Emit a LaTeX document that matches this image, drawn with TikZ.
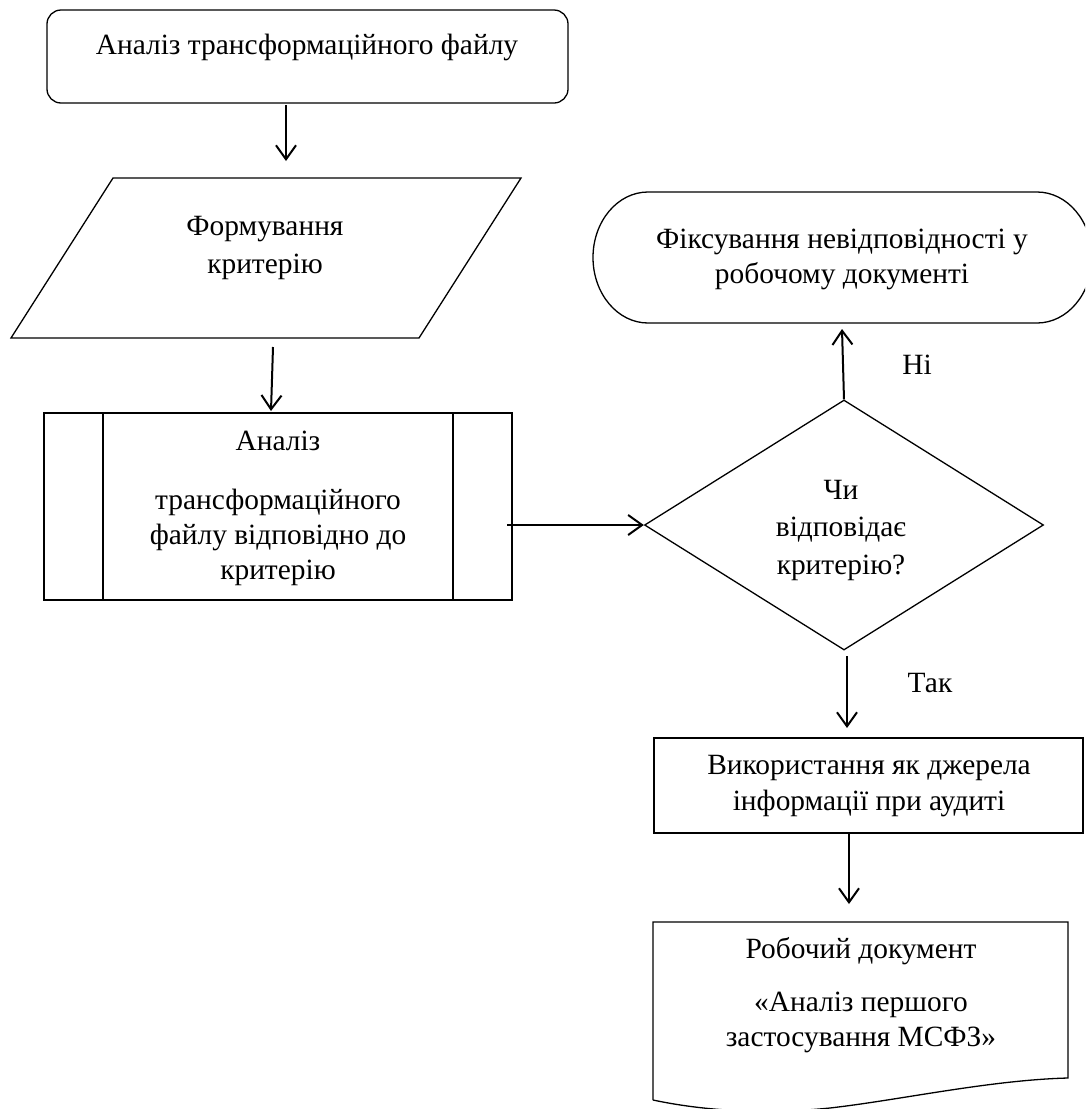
\documentclass[tikz,border=0pt]{standalone}
\usepackage{fontspec}
\setmainfont{Liberation Serif}
\usetikzlibrary{shapes.geometric,arrows.meta}
\begin{document}
\begin{tikzpicture}[x=1pt,y=-1pt,
  shp/.style={draw,line width=1.3pt},
  txt/.style={inner sep=0pt,align=center,font=\fontsize{29.4}{35}\selectfont},
  conn/.style={line width=2pt,-{Straight Barb[length=14pt,width=20pt]}}]
\useasboundingbox (0,0) rectangle (1085,1109);
\clip (0,0) rectangle (1085,1109);
\fill[white] (0,0) rectangle (1085,1109);

% top rounded rectangle
\draw[shp,rounded corners=14pt] (47,10) rectangle (568,103);
\node[txt] (t1) at (307,47) {Аналіз трансформаційного файлу};

% parallelogram
\draw[shp,line join=miter] (113,178) -- (521,178) -- (419,338) -- (11,338) -- cycle;
\node[txt,font=\fontsize{29.4}{38.5}\selectfont] (t2) at (265,248) {Формування\\критерію};

% predefined process
\draw[shp] (44,413) rectangle (512,600);
\draw[shp] (103,413) -- (103,600);
\draw[shp] (453,413) -- (453,600);
\node[txt] (t3) at (278,508) {Аналіз\\[24pt]трансформаційного\\файлу відповідно до\\критерію};

% decision
\node[shp,diamond,minimum width=399pt,minimum height=250pt,inner sep=0pt] (dm) at (844,525) {};
\node[txt,font=\fontsize{29.4}{37.5}\selectfont] (t4) at (841,530) {Чи\\відповідає\\критерію?};

% terminator
\draw[shp] (648,192) -- (1037,192)
  .. controls (1067.4,192) and (1092,221.3) .. (1092,257.5)
  .. controls (1092,293.7) and (1067.4,323) .. (1037,323)
  -- (648,323)
  .. controls (617.6,323) and (593,293.7) .. (593,257.5)
  .. controls (593,221.3) and (617.6,192) .. (648,192) -- cycle;
\node[txt] (t5) at (842,259) {Фіксування невідповідності у\\робочому документі};

% process rectangle
\draw[shp] (654,738) rectangle (1083,833);
\node[txt,font=\fontsize{29.4}{36}\selectfont] (t6) at (869,786) {Використання як джерела\\інформації при аудиті};

% document
\draw[shp] (653,1100) -- (653,922) -- (1068,922) -- (1068,1078)
  .. controls (990,1080) and (900,1100) .. (830,1108)
  .. controls (760,1115) and (700,1110) .. (653,1100);
\node[txt] (t7) at (861,995) {Робочий документ\\[18pt]«Аналіз першого\\застосування МСФЗ»};

% labels
\node[txt] (ni) at (917,365) {Ні};
\node[txt] (tak) at (930,683) {Так};

% connector endpoints
\coordinate (a1s) at (286,105);
\coordinate (a1e) at (286,161);
\coordinate (a2s) at (273,347);
\coordinate (a2e) at (271,411);
\coordinate (a3s) at (507,525);
\coordinate (a4e) at (842,329);
\coordinate (a5s) at (847,656);
\coordinate (a5e) at (847,728);
\coordinate (a6s) at (849,834);
\coordinate (a6e) at (849,904);

\draw[conn] (a1s) -- (a1e);
\draw[conn] (a2s) -- (a2e);
\draw[conn] (a3s) -- (dm.west);
\draw[conn] (dm.north) -- (a4e);
\draw[conn] (a5s) -- (a5e);
\draw[conn] (a6s) -- (a6e);
\end{tikzpicture}
\end{document}
